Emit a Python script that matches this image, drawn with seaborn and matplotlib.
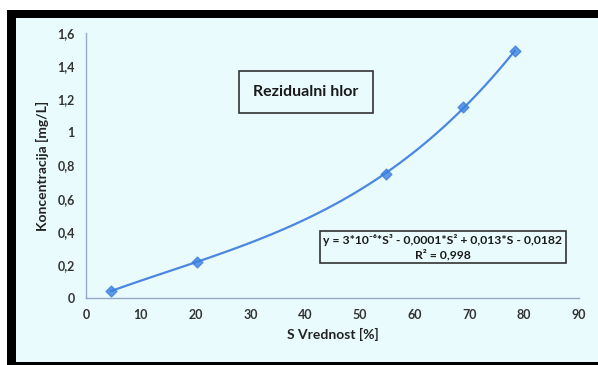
import matplotlib
matplotlib.use('Agg')
import matplotlib.pyplot as plt
from matplotlib.patches import Rectangle
from matplotlib.ticker import FuncFormatter, MultipleLocator
import seaborn as sns
import pandas as pd

s_vals = [4.5, 20.2, 54.8, 68.9, 78.3]
conc = [0.04, 0.22, 0.75, 1.155, 1.49]
title_txt = 'Rezidualni hlor'
eq_txt = 'y = 3*10⁻⁶*S³ - 0,0001*S² + 0,013*S - 0,0182\nR² = 0,998'

df = pd.DataFrame({'S': s_vals, 'C': conc})

sns.set_style('white')
plt.rcParams['font.family'] = ['Lato', 'DejaVu Sans']

fig = plt.figure(figsize=(5.98, 3.65), dpi=100)
fig.patch.set_facecolor('white')
W, H = 598, 365
# black frame + light cyan panel
fig.patches.append(Rectangle((7 / W, 0), 1, 1 - 10 / H, transform=fig.transFigure,
                             facecolor='black', edgecolor='none', zorder=-2))
fig.patches.append(Rectangle((16 / W, 3 / H), 1, 1 - 21 / H, transform=fig.transFigure,
                             facecolor='#e9fbfc', edgecolor='none', zorder=-1))

ax = fig.add_axes([86 / W, 1 - 298 / H, 493 / W, 265 / H])
ax.set_facecolor('none')

blue = '#3c7fdf'
sns.regplot(data=df, x='S', y='C', order=3, ci=None, ax=ax,
            marker='D', color=blue,
            scatter_kws={'s': 30, 'color': blue, 'zorder': 3},
            line_kws={'lw': 1.6, 'color': '#4a88e0'})

ax.set_xlim(0, 90)
ax.set_ylim(0, 1.6)
ax.xaxis.set_major_locator(MultipleLocator(10))
ax.yaxis.set_major_locator(MultipleLocator(0.2))
fmt = FuncFormatter(lambda v, p: ('%g' % round(v, 2)).replace('.', ','))
ax.xaxis.set_major_formatter(fmt)
ax.yaxis.set_major_formatter(fmt)

for side in ['top', 'right']:
    ax.spines[side].set_visible(False)
for side in ['left', 'bottom']:
    ax.spines[side].set_color('#98a8c8')
    ax.spines[side].set_linewidth(1)
ax.tick_params(axis='both', which='major', direction='out', length=4, width=0.8,
               color='#98a8c8', labelsize=9, labelcolor='#333333', pad=4)
for lbl in ax.get_xticklabels() + ax.get_yticklabels():
    lbl.set_fontweight('bold')

ax.set_xlabel('S Vrednost [%]', fontsize=10, fontweight='bold', color='#222222', labelpad=5)
ax.set_ylabel('Koncentracija [mg/L]', fontsize=10, fontweight='bold', color='#222222', labelpad=6)

fig.text(306 / W, 1 - 92 / H, title_txt, ha='center', va='center', fontsize=11.5,
         fontweight='bold', color='#1a1a1a',
         bbox=dict(boxstyle='square,pad=0.9', facecolor='none', edgecolor='#333333', lw=1.2))
fig.text(443 / W, 1 - 247 / H, eq_txt, ha='center', va='center', fontsize=8.7,
         fontweight='bold', color='#1a1a1a', linespacing=1.25,
         bbox=dict(boxstyle='square,pad=0.25', facecolor='none', edgecolor='#333333', lw=1.2))

fig.savefig('out.png', dpi=100)
